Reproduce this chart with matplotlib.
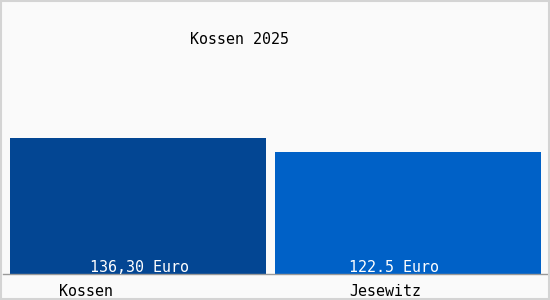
import matplotlib
matplotlib.use("Agg")
import matplotlib.pyplot as plt
from matplotlib.patches import Rectangle

# chart data
categories = ["Kossen", "Jesewitz"]
values = [136.30, 122.5]
value_labels = ["136,30 Euro", "122.5 Euro"]
title = "Kossen 2025"

bar_colors = ["#034693", "#0061c7"]
bg = "#fafafa"

W, H = 550, 300
fig = plt.figure(figsize=(W / 100, H / 100), dpi=100, facecolor=bg)

# border round the whole picture
fig.patches.append(Rectangle((0.002, 0.003), 0.996, 0.994, transform=fig.transFigure,
                             fill=False, edgecolor="#d4d4d4", linewidth=1.5))

# axes placed in pixel terms: x 3..547, baseline at y=274
ax = fig.add_axes([3 / W, (H - 274) / H, 544 / W, 274 / H])
ax.set_facecolor(bg)
ax.patch.set_alpha(0)

x = list(range(len(categories)))
# the source gives the second bar a little more room
widths = [0.948, 0.985]
ax.bar(x, values, width=widths, color=bar_colors, align="center", zorder=2)
ax.set_xlim(-0.5, 1.515)
ax.set_ylim(0, 274)

for s in ["top", "left", "right"]:
    ax.spines[s].set_visible(False)
ax.spines["bottom"].set_color("#9a9a9a")
ax.spines["bottom"].set_linewidth(1)
ax.set_xticks([])
ax.set_yticks([])

mono = "DejaVu Sans Mono"
fs = 10.8

# value labels inside the bars (the source renderer sets them slightly off centre)
val_off = [0.004, -0.052]
for i, (v, lab) in enumerate(zip(values, value_labels)):
    ax.text(i + val_off[i], 6, lab, ha="center", va="center", color="white",
            fontsize=fs, family=mono, zorder=3)

# category names below the baseline
cat_off = [-0.193, -0.085]
for i, c in enumerate(categories):
    ax.annotate(c, xy=(i + cat_off[i], 0), xycoords=("data", "axes fraction"),
                xytext=(0, -17), textcoords="offset pixels", ha="center", va="center",
                color="black", fontsize=fs, family=mono)

fig.text(239 / W, 1 - 40 / H, title, ha="center", va="center", color="black",
         fontsize=fs, family=mono)

fig.savefig("out.png", dpi=100, facecolor=bg)
